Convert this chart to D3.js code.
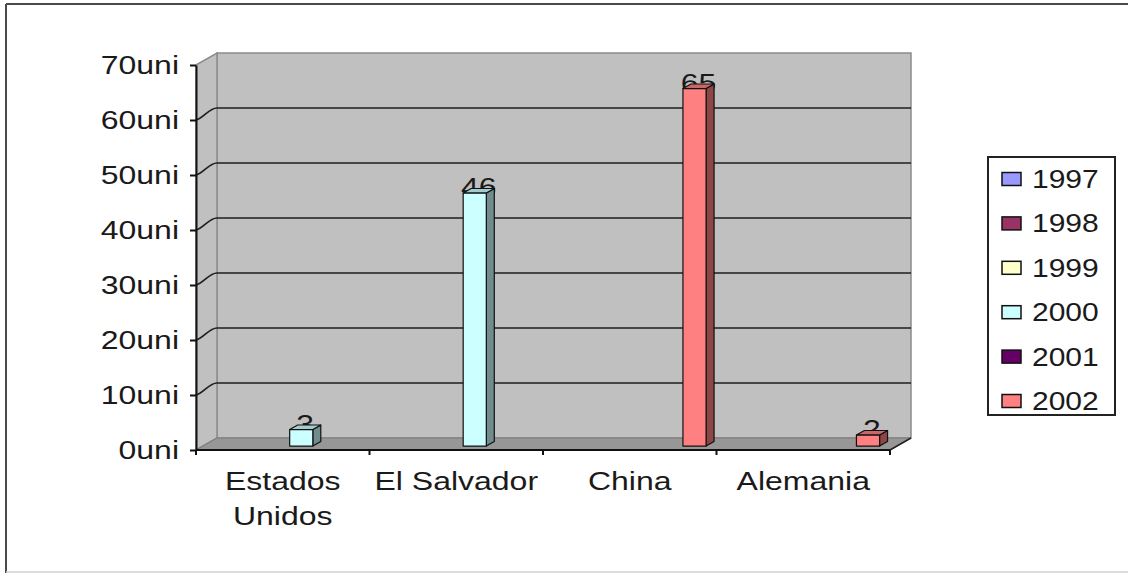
<!DOCTYPE html>
<html>
<head>
<meta charset="utf-8">
<script src="https://cdn.jsdelivr.net/npm/d3@7"></script>
<style>
  html, body { margin: 0; padding: 0; background: #fff; }
  svg { display: block; }
  text { font-family: "Liberation Sans", Arial, sans-serif; fill: #1a1a1a; }
</style>
</head>
<body>
<svg id="chart" width="1128" height="573"></svg>
<script>
// Categories (countries) and series (years)
const categories = ["Estados Unidos", "El Salvador", "China", "Alemania"];
const years = ["1997", "1998", "1999", "2000", "2001", "2002"];
const seriesColors = ["#9999FF", "#993366", "#FFFFCC", "#CCFFFF", "#660066", "#FF8080"];

// Values per year, one entry per category (null = no bar)
const v1997 = [null, null, null, null];
const v1998 = [null, null, null, null];
const v1999 = [null, null, null, null];
const v2000 = [3, 46, null, null];
const v2001 = [null, null, null, null];
const v2002 = [null, null, 65, 2];

const yTicks = [0, 10, 20, 30, 40, 50, 60, 70];
const unitSuffix = "uni";

const seriesValues = [v1997, v1998, v1999, v2000, v2001, v2002];

// ---- layout ----
const svg = d3.select("#chart");
const plot = { left: 196, right: 890, top: 65, bottom: 450 };
const depth = { dx: 21, dy: -12 };      // 3D depth of the plot box
const barDepth = [0.33, 0.71];          // bars sit between these depth fractions
const stretch = 1.28;                    // horizontal text stretch
const fontSize = 25;

const x = d3.scaleBand().domain(categories).range([plot.left, plot.right]).paddingInner(0).paddingOuter(0);
const xs = d3.scaleBand().domain(years).range([0, x.bandwidth()]).paddingInner(0).paddingOuter(0.75);
const y = d3.scaleLinear().domain([0, 70]).range([plot.bottom, plot.top]);

const pts = a => a.map(p => p.join(",")).join(" ");

// ---- outer frame ----
svg.append("line").attr("x1", 6).attr("y1", 4).attr("x2", 1128).attr("y2", 4)
  .attr("stroke", "#4a4a4a").attr("stroke-width", 2);
svg.append("line").attr("x1", 6).attr("y1", 4).attr("x2", 6).attr("y2", 573)
  .attr("stroke", "#4a4a4a").attr("stroke-width", 2);
svg.append("line").attr("x1", 6).attr("y1", 572).attr("x2", 1128).attr("y2", 572)
  .attr("stroke", "#d0d0d0").attr("stroke-width", 1.5);

// ---- walls and floor ----
const bx0 = plot.left + depth.dx, bx1 = plot.right + depth.dx;
const by0 = plot.top + depth.dy, by1 = plot.bottom + depth.dy;

// back wall
svg.append("rect").attr("x", bx0).attr("y", by0).attr("width", bx1 - bx0).attr("height", by1 - by0)
  .attr("fill", "#c0c0c0").attr("stroke", "#8c8c8c").attr("stroke-width", 1.5);
// side wall
svg.append("polygon")
  .attr("points", pts([[plot.left, plot.top], [bx0, by0], [bx0, by1], [plot.left, plot.bottom]]))
  .attr("fill", "#c0c0c0").attr("stroke", "#8c8c8c").attr("stroke-width", 1.5);
// floor
svg.append("polygon")
  .attr("points", pts([[plot.left, plot.bottom], [bx0, by1], [bx1, by1], [plot.right, plot.bottom]]))
  .attr("fill", "#979797").attr("stroke", "#7a7a7a").attr("stroke-width", 1);

// gridlines on back wall and side wall
const grid = svg.append("g").attr("stroke", "#1e1e1e").attr("stroke-width", 1.6).attr("fill", "none");
yTicks.filter(t => t > 0 && t < 70).forEach(t => {
  const yy = y(t);
  grid.append("line").attr("x1", bx0).attr("x2", bx1).attr("y1", yy + depth.dy).attr("y2", yy + depth.dy);
  grid.append("path")
    .attr("d", `M${plot.left},${yy} C${plot.left + 8},${yy - 2} ${bx0 - 8},${yy + depth.dy} ${bx0},${yy + depth.dy}`);
});

// right edge of floor
svg.append("line").attr("x1", plot.right).attr("y1", plot.bottom).attr("x2", bx1).attr("y2", by1)
  .attr("stroke", "#222").attr("stroke-width", 1.6);

// ---- data labels (drawn first so the bar tops overlap them) ----
const bars = [];
seriesValues.forEach((vals, si) => {
  vals.forEach((v, ci) => {
    if (v == null) return;
    bars.push({ year: years[si], cat: categories[ci], value: v, color: seriesColors[si] });
  });
});

const f0 = barDepth[0], f1 = barDepth[1];
const ddx = (f1 - f0) * depth.dx, ddy = (f1 - f0) * depth.dy;

svg.append("g").selectAll("text").data(bars).join("text")
  .attr("text-anchor", "middle")
  .attr("font-size", fontSize)
  .attr("transform", d => {
    const xl = x(d.cat) + xs(d.year) + f0 * depth.dx;
    const cx = xl + xs.bandwidth() / 2 + ddx / 2;
    const yt = y(d.value) + f0 * depth.dy;
    return `translate(${cx},${yt + 3}) scale(${stretch},1)`;
  })
  .text(d => d.value);

// ---- bars ----
const shade = (c, k) => { const r = d3.rgb(c); return d3.rgb(r.r * k, r.g * k, r.b * k).toString(); };
const barG = svg.append("g").attr("stroke", "#111").attr("stroke-width", 1.2).attr("stroke-linejoin", "round");
bars.forEach(d => {
  const xl = x(d.cat) + xs(d.year) + f0 * depth.dx;
  const xr = xl + xs.bandwidth();
  const yb = y(0) + f0 * depth.dy;
  const yt = y(d.value) + f0 * depth.dy;
  barG.append("polygon")
    .attr("points", pts([[xr, yt], [xr + ddx, yt + ddy], [xr + ddx, yb + ddy], [xr, yb]]))
    .attr("fill", shade(d.color, 0.55));
  barG.append("polygon")
    .attr("points", pts([[xl, yt], [xl + ddx, yt + ddy], [xr + ddx, yt + ddy], [xr, yt]]))
    .attr("fill", shade(d.color, 0.8));
  barG.append("rect").attr("x", xl).attr("y", yt).attr("width", xr - xl).attr("height", yb - yt)
    .attr("fill", d.color);
});

// ---- y axis ----
const yAxis = d3.axisLeft(y).tickValues(yTicks).tickSize(6).tickSizeOuter(0)
  .tickFormat(d => d + unitSuffix);
const yg = svg.append("g").attr("transform", `translate(${plot.left},0)`).call(yAxis);
yg.select(".domain").attr("stroke", "#111").attr("stroke-width", 2);
yg.selectAll(".tick line").attr("stroke", "#111").attr("stroke-width", 2);
yg.selectAll(".tick text")
  .attr("x", null).attr("dy", null)
  .attr("font-size", fontSize)
  .attr("font-family", "Liberation Sans, Arial, sans-serif")
  .attr("fill", "#1a1a1a")
  .attr("text-anchor", "end")
  .attr("transform", `translate(-17,8) scale(${stretch},1)`);

// ---- x axis ----
const xg = svg.append("g");
xg.append("line").attr("x1", plot.left).attr("x2", plot.right).attr("y1", plot.bottom).attr("y2", plot.bottom)
  .attr("stroke", "#111").attr("stroke-width", 2);
const edges = categories.map(c => x(c)).concat([x.range()[1]]);
xg.selectAll("line.tick").data(edges).join("line").attr("class", "tick")
  .attr("x1", d => d).attr("x2", d => d).attr("y1", plot.bottom).attr("y2", plot.bottom + 5)
  .attr("stroke", "#111").attr("stroke-width", 2);

// category labels; names much wider than their band break onto two lines
categories.forEach(c => {
  const cx = x(c) + x.bandwidth() / 2;
  const words = c.split(" ");
  const t = xg.append("text").attr("font-size", fontSize).text(c);
  const full = t.node().getComputedTextLength() * stretch;
  t.remove();
  const lines = full > x.bandwidth() * 1.15 ? words : [c];
  lines.forEach((ln, i) => {
    xg.append("text").attr("text-anchor", "middle").attr("font-size", fontSize)
      .attr("transform", `translate(${cx},${490 + i * 35}) scale(${stretch},1)`)
      .text(ln);
  });
});

// ---- legend ----
const lg = svg.append("g");
lg.append("rect").attr("x", 988).attr("y", 157).attr("width", 127).attr("height", 258)
  .attr("fill", "#fff").attr("stroke", "#222").attr("stroke-width", 2);
const rowY = d3.scalePoint().domain(years).range([179, 401]);
years.forEach((yr, i) => {
  const cy = rowY(yr);
  lg.append("rect").attr("x", 1002).attr("y", cy - 6.5).attr("width", 19).attr("height", 13)
    .attr("fill", seriesColors[i]).attr("stroke", "#111").attr("stroke-width", 1.5);
  lg.append("text").attr("font-size", fontSize)
    .attr("transform", `translate(1032,${cy + 9}) scale(1.2,1)`)
    .text(yr);
});
</script>
</body>
</html>
